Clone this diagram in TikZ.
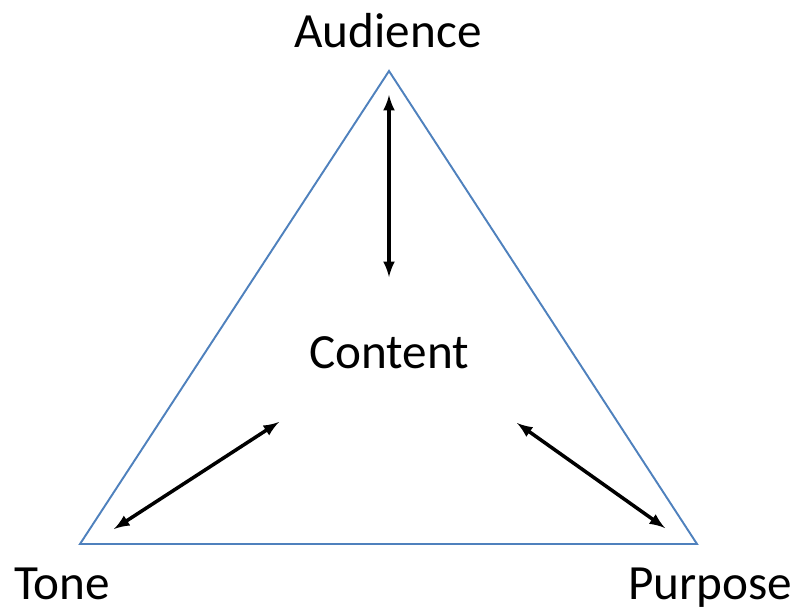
\documentclass[tikz,border=0pt]{standalone}
\usepackage{fontspec}
\setmainfont{Carlito}
\usepackage{tikz}
\tikzset{>=latex}
\definecolor{triblue}{HTML}{4F81BD}
\tikzset{
  label/.style={anchor=base, font=\fontsize{28}{34}\selectfont},
  link/.style={<->, black, line width=2pt},
}

\begin{document}
\begin{tikzpicture}[x=0.02cm, y=-0.02cm]
\useasboundingbox (0,0) rectangle (797,609);
  % corners of the triangle
  \coordinate (top) at (389,71);
  \coordinate (left) at (80,544);
  \coordinate (right) at (697,544);
  \draw[triblue, line width=1.1pt, line join=miter] (top) -- (left) -- (right) -- cycle;

  % labels
  \node[label] (audience) at (388,47) {Audience};
  \node[label] (content) at (389,368) {Content};
  \node[label] (tone) at (62,599) {Tone};
  \node[label] (purpose) at (710,599) {Purpose};

  % arrow ends
  \coordinate (a1) at (389,95);
  \coordinate (a2) at (389,277);
  \coordinate (t1) at (114,529);
  \coordinate (t2) at (279,422);
  \coordinate (p1) at (517,423);
  \coordinate (p2) at (665,528);
  \draw[link] (a1) -- (a2);
  \draw[link] (t1) -- (t2);
  \draw[link] (p1) -- (p2);
\end{tikzpicture}
\end{document}
